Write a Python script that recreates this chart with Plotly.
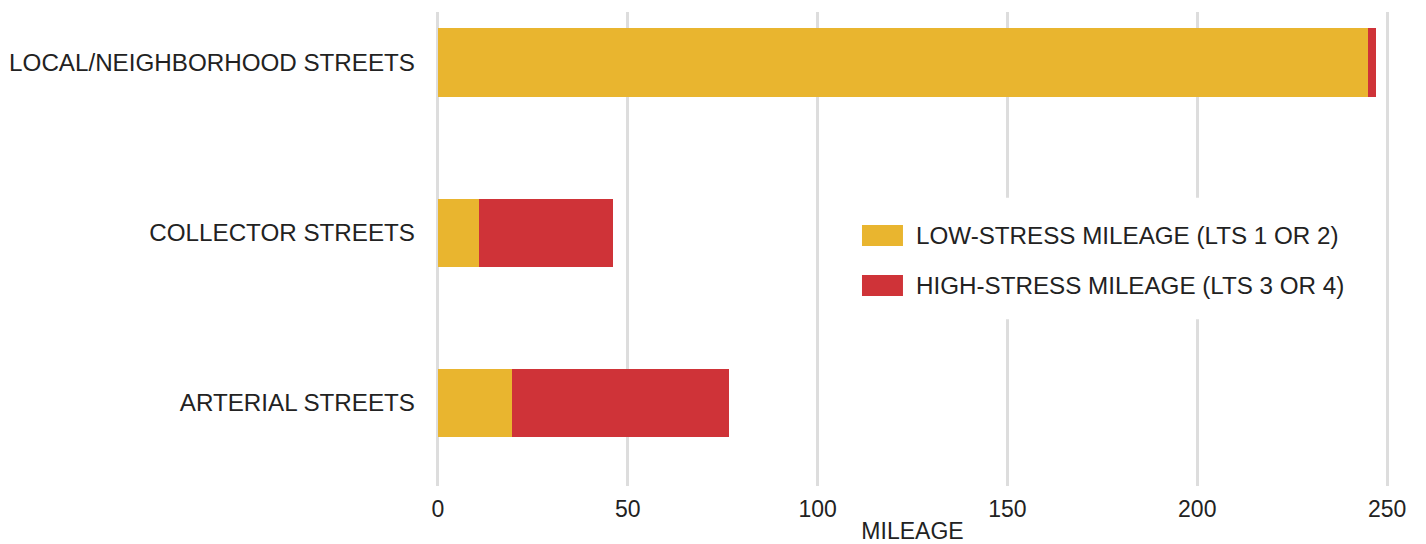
import plotly.graph_objects as go

# Street mileage by functional class, split by level of traffic stress
categories = ["LOCAL/NEIGHBORHOOD STREETS", "COLLECTOR STREETS", "ARTERIAL STREETS"]
low_stress = [245.0, 10.8, 19.6]
high_stress = [2.1, 35.2, 57.1]

series_names = ["LOW-STRESS MILEAGE (LTS 1 OR 2)", "HIGH-STRESS MILEAGE (LTS 3 OR 4)"]
series_colors = ["#E9B52F", "#CF3338"]

x_ticks = [0, 50, 100, 150, 200, 250]
x_title = "MILEAGE"

FONT = "Liberation Sans, Arial, Helvetica, sans-serif"
TEXT = "#222222"

fig = go.Figure()
for name, vals, col in zip(series_names, [low_stress, high_stress], series_colors):
    fig.add_trace(go.Bar(
        y=categories, x=vals, name=name, orientation="h",
        marker=dict(color=col, line=dict(width=0)),
        width=0.4, showlegend=False,
    ))

# Legend drawn as a white panel with wide colour keys
legend_shapes = [dict(type="rect", xref="paper", yref="paper",
                      x0=0.432, x1=0.965, y0=0.352, y1=0.608,
                      fillcolor="white", line=dict(width=0), layer="above")]
legend_notes = []
key_rows = [(0.5063, 0.5506), (0.4008, 0.4451)]
for (y0, y1), name, col in zip(key_rows, series_names, series_colors):
    legend_shapes.append(dict(type="rect", xref="paper", yref="paper",
                              x0=0.447, x1=0.490, y0=y0, y1=y1,
                              fillcolor=col, line=dict(width=0), layer="above"))
    legend_notes.append(dict(xref="paper", yref="paper", x=0.5016, y=(y0 + y1) / 2,
                             xanchor="left", yanchor="middle", showarrow=False,
                             text=name, font=dict(family=FONT, size=24.2, color=TEXT)))

fig.update_layout(
    barmode="stack",
    width=1426, height=544,
    margin=dict(l=436, r=37, t=12, b=58),
    paper_bgcolor="white", plot_bgcolor="white",
    font=dict(family=FONT, size=23, color=TEXT),
    shapes=legend_shapes,
    annotations=legend_notes,
    xaxis=dict(
        range=[-0.5, 250.5], tickvals=x_ticks, ticktext=[str(v) for v in x_ticks],
        showgrid=True, gridcolor="#DDDDDD", gridwidth=3, zeroline=False,
        showline=False, ticks="", ticklabelstandoff=7, automargin=False,
        tickfont=dict(family=FONT, size=23, color=TEXT),
        title=dict(text=x_title, font=dict(family=FONT, size=23, color=TEXT), standoff=11),
    ),
    yaxis=dict(
        type="category", categoryorder="array", categoryarray=categories,
        range=[2.491, -0.297], showgrid=False, zeroline=False, showline=False,
        ticks="", ticklabelstandoff=20, automargin=False,
        tickfont=dict(family=FONT, size=24.2, color=TEXT),
    ),
)

fig.write_html("out.html")
